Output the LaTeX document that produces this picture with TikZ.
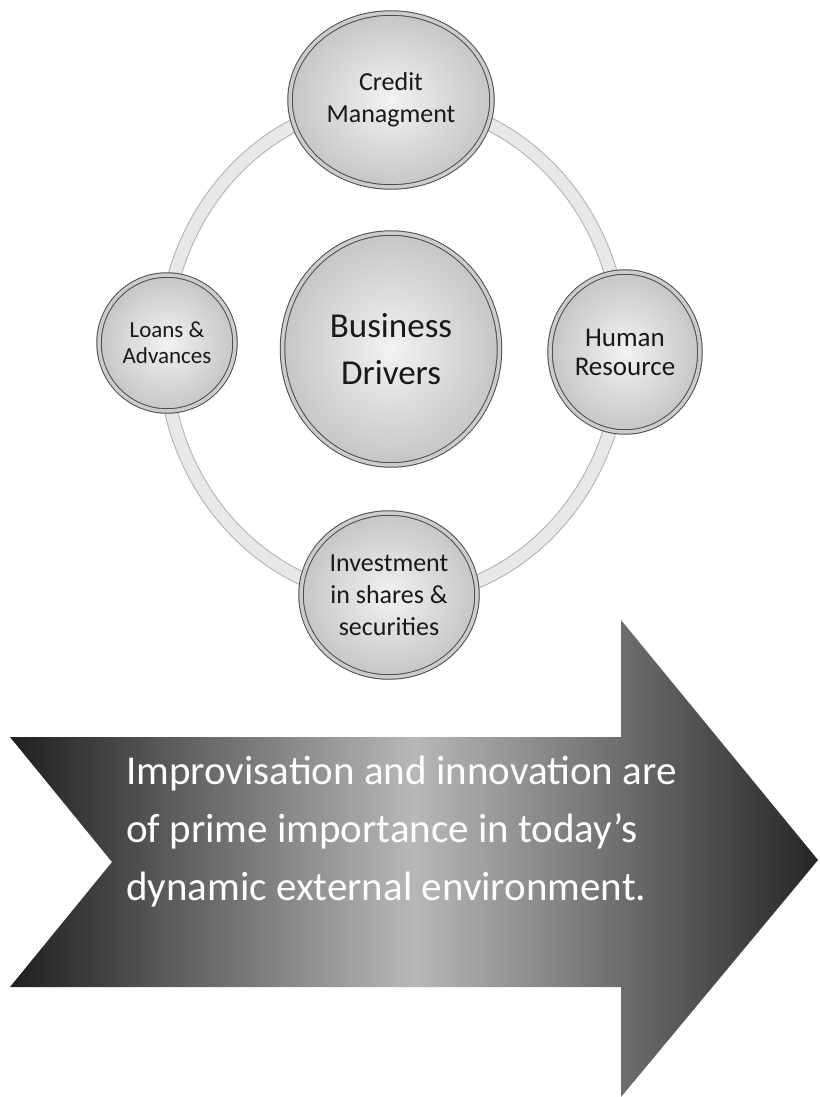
\documentclass[tikz,border=0pt]{standalone}
\usepackage{fontspec}
\setmainfont{Carlito}
\usetikzlibrary{shapes.geometric}
\begin{document}
\begin{tikzpicture}[x=1pt,y=-1pt]
\useasboundingbox (0,0) rectangle (819,1097);
\tikzset{
  bubble/.style={ellipse, draw=black!70, line width=1pt, double=gray!40, double distance=3.5pt,
    inner color=gray!10, outer color=gray!45, inner sep=0pt, align=center, text=black!90},
  ringline/.style={draw=gray!60, line width=0.9pt},
  ringband/.style={draw=gray!18, line width=13pt},
}
% ring
\coordinate (rc) at (393,350);
\draw[ringband] (rc) ellipse [x radius=229pt, y radius=249pt];
\draw[ringline] (rc) ellipse [x radius=235.5pt, y radius=255.5pt];
\draw[ringline] (rc) ellipse [x radius=222.5pt, y radius=242.5pt];
% bubbles
\node[bubble, minimum width=202pt, minimum height=174pt, font=\fontsize{26}{32}\selectfont] (credit) at (391,100) {Credit\\Managment};
\node[bubble, minimum width=217pt, minimum height=232pt, font=\fontsize{35}{47}\selectfont] (bd) at (391,349) {Business\\Drivers};
\node[bubble, minimum width=136pt, minimum height=136pt, font=\fontsize{23}{26}\selectfont] (loans) at (167,343) {Loans \&\\Advances};
\node[bubble, minimum width=150pt, minimum height=160pt, font=\fontsize{27}{29}\selectfont] (hr) at (625,352) {Human\\Resource};
\node[bubble, minimum width=176pt, minimum height=164pt, font=\fontsize{26}{32}\selectfont] (inv) at (389,595) {Investment\\in shares \&\\securities};
% arrow
\path[left color=black!88, right color=black!85, middle color=black!28]
  (10,737) -- (621,737) -- (621,620) -- (818,860) -- (621,1097) -- (621,987) -- (10,987) -- (112,862) -- cycle;
\node[anchor=west, inner sep=0pt, align=left, text=white, font=\fontsize{41}{58}\selectfont] (msg) at (126,832)
  {Improvisation and innovation are\\of prime importance in today's\\dynamic external environment.};
\end{tikzpicture}
\end{document}
